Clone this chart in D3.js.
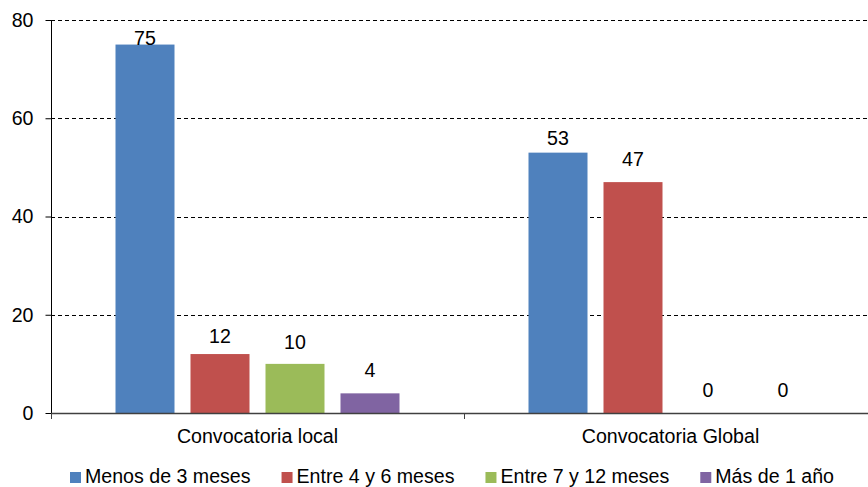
<!DOCTYPE html>
<html>
<head>
<meta charset="utf-8">
<script src="https://cdn.jsdelivr.net/npm/d3@7"></script>
<style>
  html, body { margin: 0; padding: 0; background: #fff; }
  svg { display: block; }
  text { font-family: "Liberation Sans", Arial, sans-serif; fill: #000; }
</style>
</head>
<body>
<svg id="chart" width="868" height="487"></svg>
<script>
// ---- data ----
const categories = ["Convocatoria local", "Convocatoria Global"];
const seriesNames = ["Menos de 3 meses", "Entre 4 y 6 meses", "Entre 7 y 12 meses", "Más de 1 año"];
const localValues = [75, 12, 10, 4];
const globalValues = [53, 47, 0, 0];
const yTicks = [0, 20, 40, 60, 80];

// ---- style / layout ----
const colors = ["#4F81BD", "#C0504D", "#9BBB59", "#8064A2"];
const labelLift = [[0, 11, 15, 16], [8, 16, 16, 16]]; // px gap between bar top and label baseline
const fontSize = 19.6;

const svg = d3.select("#chart");
const plot = { left: 51, right: 877, top: 20, bottom: 413 };

const x0 = d3.scaleBand().domain(categories).range([plot.left, plot.right]).padding(0);
const x1 = d3.scaleBand().domain(seriesNames).range([0, x0.bandwidth()])
  .paddingInner(16 / 75).paddingOuter(0.86);
const y = d3.scaleLinear().domain([0, 80]).range([plot.bottom, plot.top]);

const valuesByCat = [localValues, globalValues];

// gridlines
svg.append("g").selectAll("line").data(yTicks.filter(t => t > 0)).join("line")
  .attr("x1", plot.left).attr("x2", 868)
  .attr("y1", d => Math.round(y(d)) + 0.5).attr("y2", d => Math.round(y(d)) + 0.5)
  .attr("stroke", "#000").attr("stroke-width", 1).attr("stroke-dasharray", "4,3");

// bars
categories.forEach((cat, ci) => {
  const g = svg.append("g").attr("transform", `translate(${x0(cat)},0)`);
  g.selectAll("rect").data(valuesByCat[ci].map((v, si) => ({ v, si })).filter(d => d.v > 0)).join("rect")
    .attr("x", d => x1(seriesNames[d.si]))
    .attr("y", d => y(d.v))
    .attr("width", x1.bandwidth())
    .attr("height", d => y(0) - y(d.v))
    .attr("fill", d => colors[d.si]);
  g.selectAll("text").data(valuesByCat[ci].map((v, si) => ({ v, si }))).join("text")
    .attr("x", d => x1(seriesNames[d.si]) + x1.bandwidth() / 2)
    .attr("y", d => y(d.v) - labelLift[ci][d.si])
    .attr("text-anchor", "middle")
    .attr("font-size", fontSize)
    .text(d => d.v);
});

// y axis
const yAxis = d3.axisLeft(y).tickValues(yTicks).tickSize(6).tickPadding(12).tickFormat(d3.format("d"));
const yg = svg.append("g").attr("transform", `translate(${plot.left + 0.5},0)`).call(yAxis);
yg.select(".domain").attr("stroke", "#000").attr("d", `M0,${plot.top}V${plot.bottom}`);
yg.selectAll(".tick line").attr("stroke", "#000");
yg.selectAll(".tick text").attr("font-size", fontSize).attr("font-family", "Liberation Sans, Arial, sans-serif").attr("fill", "#000");

// x axis line and category boundary ticks
const xg = svg.append("g");
xg.append("line").attr("x1", plot.left).attr("x2", 868)
  .attr("y1", plot.bottom + 0.5).attr("y2", plot.bottom + 0.5)
  .attr("stroke", "#404040").attr("stroke-width", 1.5);
const boundaries = categories.map(c => x0(c)).concat([x0(categories[categories.length - 1]) + x0.bandwidth()]);
xg.selectAll("line.b").data(boundaries).join("line").attr("class", "b")
  .attr("x1", d => Math.round(d) + 0.5).attr("x2", d => Math.round(d) + 0.5)
  .attr("y1", plot.bottom).attr("y2", plot.bottom + 6)
  .attr("stroke", "#404040").attr("stroke-width", 1);
xg.selectAll("text").data(categories).join("text")
  .attr("x", d => x0(d) + x0.bandwidth() / 2)
  .attr("y", 443)
  .attr("text-anchor", "middle")
  .attr("font-size", fontSize)
  .text(d => d);

// legend
const legend = svg.append("g");
let lx = 70;
seriesNames.forEach((name, i) => {
  legend.append("rect").attr("x", lx).attr("y", 472).attr("width", 11).attr("height", 11).attr("fill", colors[i]);
  const t = legend.append("text").attr("x", lx + 15).attr("y", 483).attr("font-size", fontSize).text(name);
  lx += 15 + t.node().getComputedTextLength() + 31;
});
</script>
</body>
</html>
